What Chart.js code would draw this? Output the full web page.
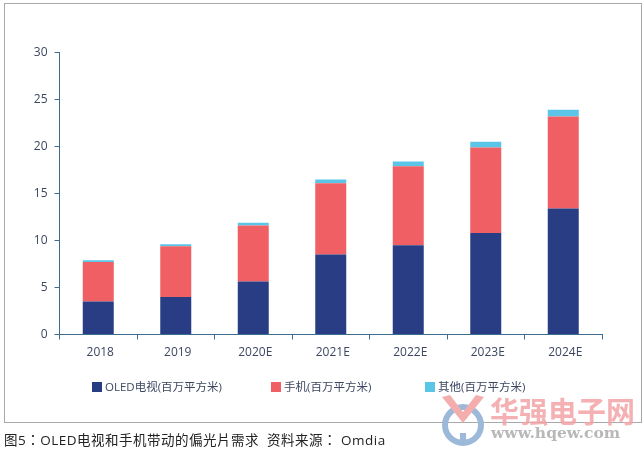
<!DOCTYPE html>
<html>
<head>
<meta charset="utf-8">
<script src="https://cdn.jsdelivr.net/npm/chart.js@4"></script>
<style>
  html, body { margin: 0; padding: 0; background: #fff; }
  body { width: 644px; height: 453px; position: relative; overflow: hidden;
    font-family: "Open Sans", "Noto Sans CJK SC", sans-serif; }
  #frame { position: absolute; left: 4px; top: 3px; width: 636px; height: 418px; border: 1px solid #a8a8a8; }
  canvas { position: absolute; left: 0; top: 0; }
  .legend-item { position: absolute; top: 378px; font-size: 11.5px; line-height: 17px; color: #3c4660; white-space: nowrap; }
  .legend-item i { position: absolute; left: -13px; top: 4px; width: 10px; height: 10px; }
  #caption { position: absolute; left: 4px; top: 430px; font-family: "Open Sans", "Noto Sans CJK TC", sans-serif; font-size: 13.5px; line-height: 20px; color: #222; white-space: pre; letter-spacing: 0.5px; }
  #wm-cn { position: absolute; left: 490px; top: 394px; font-size: 29px; line-height: 36px; font-weight: bold; color: #f2a3a5; opacity: .85; white-space: nowrap; }
  #wm-url { position: absolute; left: 491px; top: 424px; font-family: "DejaVu Serif", serif; font-size: 15.5px; line-height: 18px; font-weight: bold; color: #b8b8b8; white-space: nowrap; }
  #wm-logo { position: absolute; left: 439px; top: 394px; }
</style>
</head>
<body>
<div id="frame"></div>
<canvas id="chart" width="644" height="453"></canvas>
<div id="legend"></div>
<svg id="wm-logo" width="50" height="54" viewBox="0 0 50 54">
  <circle cx="24" cy="31" r="18" fill="none" stroke="#9db9da" stroke-width="6"/>
  <path d="M3 3 L24 29 L45 3 L37 1 L24 18 L11 1 Z" fill="#f3adad"/>
  <rect x="21" y="39" width="6" height="10" fill="#9db9da"/>
</svg>
<div id="wm-cn">华强电子网</div>
<div id="wm-url">www.hqew.com</div>
<div id="caption">图5：OLED电视和手机带动的偏光片需求  资料来源： Omdia</div>
<script>
const years = ["2018", "2019", "2020E", "2021E", "2022E", "2023E", "2024E"];
const oledTv = [3.5, 4.0, 5.65, 8.5, 9.5, 10.8, 13.4];
const phone = [4.2, 5.4, 5.95, 7.6, 8.4, 9.1, 9.8];
const other = [0.2, 0.2, 0.3, 0.4, 0.5, 0.6, 0.7];
const yTicks = [0, 5, 10, 15, 20, 25, 30];

const axisColor = "#3f6c8e";
const textColor = "#3c4660";
const font = { family: '"Open Sans", "Noto Sans CJK SC", sans-serif', size: 12 };

const chart = new Chart(document.getElementById("chart").getContext("2d"), {
  type: "bar",
  data: {
    labels: years,
    datasets: [
      { label: "OLED电视(百万平方米)", data: oledTv, backgroundColor: "#283d83" },
      { label: "手机(百万平方米)", data: phone, backgroundColor: "#ef5f63" },
      { label: "其他(百万平方米)", data: other, backgroundColor: "#5bc5e8" },
    ],
  },
  options: {
    responsive: false,
    animation: false,
    categoryPercentage: 1,
    barPercentage: 0.4,
    layout: { padding: { top: 52.5, right: 42, bottom: 88.5, left: 0 } },
    plugins: { legend: { display: false }, tooltip: { enabled: false } },
    scales: {
      x: {
        stacked: true,
        afterFit: (scale) => { scale.height = 30; },
        border: { color: axisColor, width: 1 },
        grid: { drawOnChartArea: false, color: axisColor, tickLength: 5 },
        ticks: { color: textColor, font: font, padding: 6, maxRotation: 0, labelOffset: 2 },
      },
      y: {
        stacked: true,
        min: 0,
        max: 30,
        afterFit: (scale) => { scale.width = 59.5; },
        afterBuildTicks: (scale) => { scale.ticks = yTicks.map((v) => ({ value: v })); },
        border: { color: axisColor, width: 1 },
        grid: { drawOnChartArea: false, color: axisColor, tickLength: 5 },
        ticks: { color: textColor, font: font, padding: 7 },
      },
    },
  },
});

// legend sits far below the axis, so it is laid out by hand from the datasets
const legendLeft = [105, 284, 438];
chart.data.datasets.forEach((ds, i) => {
  const item = document.createElement("div");
  item.className = "legend-item";
  item.style.left = `${legendLeft[i]}px`;
  item.innerHTML = `<i style="background:${ds.backgroundColor}"></i>${ds.label}`;
  document.getElementById("legend").appendChild(item);
});
</script>
</body>
</html>
